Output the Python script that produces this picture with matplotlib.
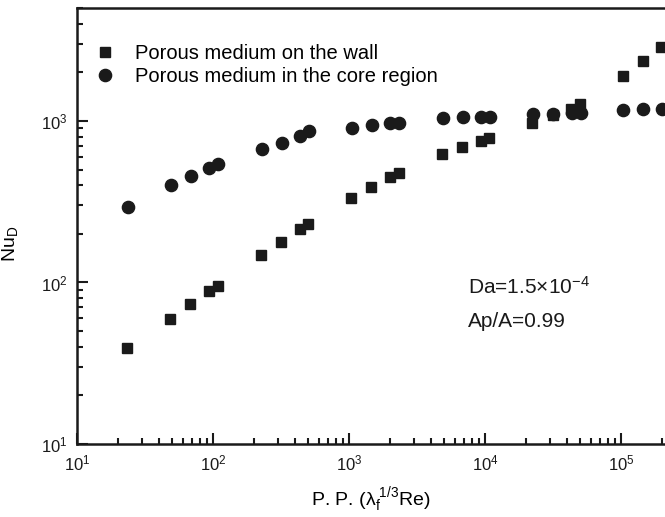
import matplotlib.pyplot as plt

plt.rcParams['font.family'] = ['Liberation Sans', 'DejaVu Sans']
plt.rcParams['mathtext.fontset'] = 'custom'
plt.rcParams['mathtext.rm'] = 'Liberation Sans'
plt.rcParams['mathtext.it'] = 'Liberation Sans:italic'

# Nusselt number vs performance parameter, two porous-insert layouts
wall_x = [23.3, 48.3, 67.7, 93.5, 109, 225, 316, 437, 500,
          1035, 1452, 2000, 2333, 4830, 6776, 9350, 10700,
          22200, 31700, 42900, 50000, 103600, 145000, 197000]
wall_y = [39.3, 59.4, 73.6, 88.5, 95, 148, 178, 214, 230,
          333, 390, 450, 476, 625, 690, 751, 785,
          972, 1089, 1186, 1274, 1900, 2355, 2870]

core_x = [23.7, 49.1, 68.9, 93.5, 109, 229, 321, 437, 508,
          1052, 1476, 2000, 2333, 4910, 6890, 9350, 10900,
          22500, 31700, 43600, 50600, 103600, 145000, 200000]
core_y = [293, 402, 456, 512, 542, 671, 731, 807, 867,
          906, 945, 972, 972, 1044, 1059, 1059, 1059,
          1105, 1105, 1121, 1121, 1170, 1186, 1186]

ink = '#1a1a1a'

fig = plt.figure(figsize=(6.65, 5.17), dpi=100)
ax = fig.add_axes([77 / 665, 73 / 517, 588 / 665, 436 / 517])

ax.plot(wall_x, wall_y, 's', color=ink, ms=7.5, ls='none',
        label='Porous medium on the wall')
ax.plot(core_x, core_y, 'o', color=ink, ms=8.8, ls='none',
        label='Porous medium in the core region')

ax.set_xscale('log')
ax.set_yscale('log')
ax.set_xlim(10, 10 ** (1 + 588 / 136))
ax.set_ylim(10, 5000)

for side in ['left', 'bottom', 'top']:
    ax.spines[side].set_linewidth(1.8)
    ax.spines[side].set_color(ink)
ax.spines['right'].set_visible(False)

ax.tick_params(which='both', direction='in', colors=ink, top=False, right=False,
               labelsize=12, width=1.5)
ax.tick_params(which='major', length=8, pad=7)
ax.tick_params(which='minor', length=4)

ax.set_xlabel('P. P. (λ$_{\\rm f}^{\\ 1/3}$Re)', fontsize=14, labelpad=8)
ax.set_ylabel(r'Nu$_{\rm D}$', fontsize=14)
ax.yaxis.set_label_coords(-0.097, 0.459)

ax.text(0.665, 0.36, r'Da=1.5$\times$10$^{-4}$', transform=ax.transAxes,
        fontsize=15, va='center', ha='left', color=ink)
ax.text(0.665, 0.28, 'Ap/A=0.99', transform=ax.transAxes,
        fontsize=15, va='center', ha='left', color=ink)

ax.legend(loc='upper left', bbox_to_anchor=(0.0306, 0.917), frameon=False,
          fontsize=14.5, handlelength=1.0, handletextpad=1.0,
          labelspacing=0.19, borderpad=0, borderaxespad=0)

fig.savefig('out.png', dpi=100)
